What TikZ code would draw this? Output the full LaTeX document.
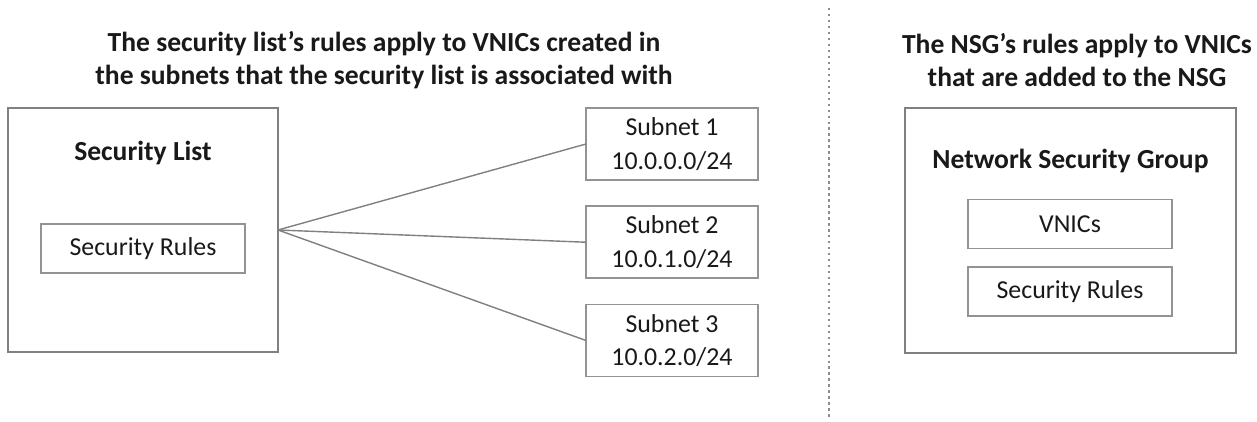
\documentclass[tikz,border=0pt]{standalone}
\usepackage{fontspec}
\setmainfont{Carlito}
\usetikzlibrary{positioning}

\begin{document}
\begin{tikzpicture}[on grid,node distance=1.96cm]

		\definecolor{BoxGray}{rgb}{0.5,0.5,0.5}
		\definecolor{TextDark}{rgb}{0.1,0.1,0.1}

		\tikzset{
			secOuter/.style={
				draw=BoxGray,
				line width=1.6pt,
				minimum width=5.4 cm,
				minimum height=4.88 cm,
				inner sep=0,
				outer sep=0pt,
			},
			secInner/.style={
				draw=BoxGray!85,
				line width=0.9pt,
				fill=white,
				minimum width=4.08 cm,
				minimum height=0.98 cm,
				inner sep=0,
				outer sep=0pt,
				text=TextDark,
				font=\fontsize{14.7}{19}\selectfont,
			},
			secSubnet/.style={
				secInner,
				minimum width=3.44 cm,
				minimum height=1.44 cm,
				align=center,
			},
			secHeading/.style={
				text=TextDark,
				align=center,
				font=\bfseries\fontsize{15.7}{18.5}\selectfont,
			},
			secLink/.style={draw=BoxGray, line width=0.8pt},
		}

		\useasboundingbox (0,0) rectangle (25.14,8.44);

		% Headings
		\node[secHeading] (slHead) at (7.68,7.24) {The security list’s rules apply to VNICs created in\\the subnets that the security list is associated with};
		\node[secHeading] (nsgHead) at (21.54,7.24) {The NSG’s rules apply to VNICs\\that are added to the NSG};

		% Security list
		\node[secOuter] (slist) at (2.86,3.84) {};
		\node[secHeading,below=0.54cm of slist.north] (slistLabel) {Security List};
		\node[secInner] (slRules) at (2.86,3.47) {Security Rules};

		% Subnets
		\foreach \i/\net in {1/0,2/1,3/2} {
			\node[secSubnet] (subnet\i) at (13.44,{5.56-(\i-1)*1.965}) {Subnet \i\\10.0.\net.0/24};
			\draw[secLink] (slist.east) -- (subnet\i.west);
		}

		% Divider
		\coordinate (divTop) at (16.58,8.28);
		\coordinate (divBot) at (16.58,0.04);
		\draw[BoxGray!90,line width=1.4pt,dotted] (divTop) -- (divBot);

		% Network security group
		\node[secOuter,minimum width=6.62 cm,minimum height=4.9 cm] (nsg) at (21.41,3.83) {};
		\node[secHeading,below=0.70cm of nsg.north] (nsgLabel) {Network Security Group};
		\node[secInner] (vnics) at (21.40,3.96) {VNICs};
		\node[secInner,below=1.35cm of vnics] (nsgRules) {Security Rules};

	\end{tikzpicture}
\end{document}
